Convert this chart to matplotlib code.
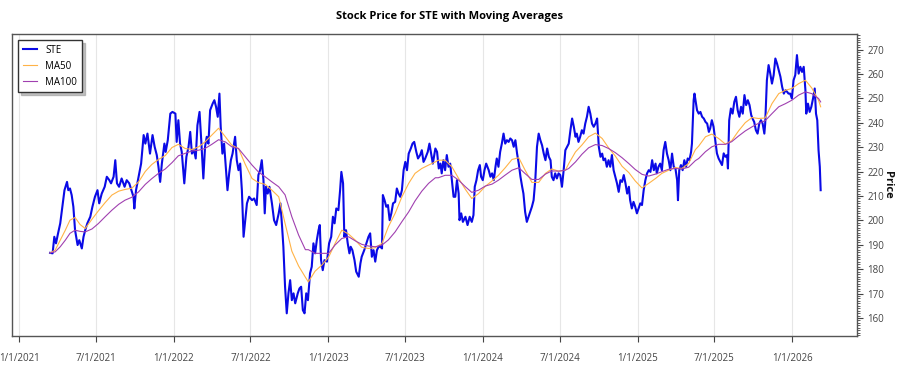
import matplotlib
matplotlib.use('Agg')
import matplotlib.pyplot as plt
import matplotlib.dates as mdates
from matplotlib.ticker import MultipleLocator, FuncFormatter
import pandas as pd

# STE closing prices
ste_dates = [
    '2021-03-15', '2021-03-21', '2021-03-25', '2021-03-29', '2021-04-02', '2021-04-08', '2021-04-12',
    '2021-04-18', '2021-04-24', '2021-04-27', '2021-05-01', '2021-05-05', '2021-05-09', '2021-05-13',
    '2021-05-19', '2021-05-23', '2021-05-29', '2021-06-02', '2021-06-06', '2021-06-11', '2021-06-18',
    '2021-06-23', '2021-06-29', '2021-07-05', '2021-07-09', '2021-07-15', '2021-07-22', '2021-07-27',
    '2021-08-02', '2021-08-06', '2021-08-12', '2021-08-16', '2021-08-20', '2021-08-25', '2021-08-31',
    '2021-09-07', '2021-09-12', '2021-09-18', '2021-09-23', '2021-09-28', '2021-09-30', '2021-10-04',
    '2021-10-10', '2021-10-16', '2021-10-22', '2021-10-26', '2021-10-31', '2021-11-06', '2021-11-12',
    '2021-11-17', '2021-11-22', '2021-11-26', '2021-11-30', '2021-12-04', '2021-12-10', '2021-12-13',
    '2021-12-18', '2021-12-24', '2021-12-29',
    '2022-01-05', '2022-01-08', '2022-01-12', '2022-01-16', '2022-01-20', '2022-01-26', '2022-01-31',
    '2022-02-05', '2022-02-09', '2022-02-13', '2022-02-18', '2022-02-22', '2022-02-26', '2022-03-03',
    '2022-03-07', '2022-03-12', '2022-03-16', '2022-03-20', '2022-03-24', '2022-03-28', '2022-04-03',
    '2022-04-07', '2022-04-11', '2022-04-15', '2022-04-19', '2022-04-22', '2022-04-26', '2022-04-30',
    '2022-05-04', '2022-05-08', '2022-05-12', '2022-05-16', '2022-05-20', '2022-05-26', '2022-05-30',
    '2022-06-03', '2022-06-07', '2022-06-11', '2022-06-15', '2022-06-19', '2022-06-23', '2022-06-28',
    '2022-07-05', '2022-07-10', '2022-07-16', '2022-07-20', '2022-07-24', '2022-07-28', '2022-08-01',
    '2022-08-04', '2022-08-07', '2022-08-11', '2022-08-15', '2022-08-21', '2022-08-26', '2022-08-31',
    '2022-09-06', '2022-09-10', '2022-09-14', '2022-09-17', '2022-09-21', '2022-09-25', '2022-09-29',
    '2022-10-03', '2022-10-07', '2022-10-11', '2022-10-15', '2022-10-21', '2022-10-25', '2022-10-29',
    '2022-11-02', '2022-11-06', '2022-11-10', '2022-11-14',
    '2022-11-19', '2022-11-23', '2022-11-27', '2022-12-01', '2022-12-05', '2022-12-09', '2022-12-12',
    '2022-12-15', '2022-12-19', '2022-12-23', '2022-12-29', '2023-01-03', '2023-01-08', '2023-01-12',
    '2023-01-16', '2023-01-20', '2023-01-25', '2023-01-29', '2023-02-01', '2023-02-05', '2023-02-08',
    '2023-02-12', '2023-02-16', '2023-02-20', '2023-02-23', '2023-02-27', '2023-03-04', '2023-03-08',
    '2023-03-14', '2023-03-18', '2023-03-21', '2023-03-27', '2023-04-01', '2023-04-06', '2023-04-10',
    '2023-04-14', '2023-04-18', '2023-04-22', '2023-04-26', '2023-04-30', '2023-05-04', '2023-05-08',
    '2023-05-10', '2023-05-14', '2023-05-18', '2023-05-22', '2023-05-26', '2023-05-30', '2023-06-03',
    '2023-06-08', '2023-06-12', '2023-06-16', '2023-06-20', '2023-06-24', '2023-06-28', '2023-07-02',
    '2023-07-06', '2023-07-10', '2023-07-15', '2023-07-19', '2023-07-23', '2023-07-28', '2023-08-01',
    '2023-08-06', '2023-08-10', '2023-08-14', '2023-08-18', '2023-08-24', '2023-08-28', '2023-09-01',
    '2023-09-05', '2023-09-11', '2023-09-15', '2023-09-19',
    '2023-09-23', '2023-09-26', '2023-09-30', '2023-10-04', '2023-10-08', '2023-10-12', '2023-10-16',
    '2023-10-20', '2023-10-24', '2023-10-28', '2023-11-01', '2023-11-05', '2023-11-07', '2023-11-11',
    '2023-11-15', '2023-11-21', '2023-11-26', '2023-12-01', '2023-12-06', '2023-12-10', '2023-12-13',
    '2023-12-17', '2023-12-21', '2023-12-25', '2023-12-28', '2024-01-01', '2024-01-05', '2024-01-09',
    '2024-01-15', '2024-01-19', '2024-01-23', '2024-01-27', '2024-01-31', '2024-02-03', '2024-02-07',
    '2024-02-11', '2024-02-15', '2024-02-19', '2024-02-23', '2024-02-27', '2024-03-02', '2024-03-06',
    '2024-03-10', '2024-03-14', '2024-03-18', '2024-03-22', '2024-03-26', '2024-03-30', '2024-04-03',
    '2024-04-06', '2024-04-10', '2024-04-14', '2024-04-18', '2024-04-22', '2024-04-26', '2024-04-30',
    '2024-05-04', '2024-05-08', '2024-05-12', '2024-05-16', '2024-05-20', '2024-05-24', '2024-05-28',
    '2024-06-01', '2024-06-05', '2024-06-09', '2024-06-12', '2024-06-16', '2024-06-20', '2024-06-24',
    '2024-06-28', '2024-07-02', '2024-07-06', '2024-07-10', '2024-07-14', '2024-07-18', '2024-07-22',
    '2024-07-26', '2024-07-30', '2024-08-03', '2024-08-07', '2024-08-10', '2024-08-14', '2024-08-18',
    '2024-08-22', '2024-08-26', '2024-08-30', '2024-09-03', '2024-09-07', '2024-09-11', '2024-09-15',
    '2024-09-19', '2024-09-23', '2024-09-27', '2024-10-01', '2024-10-05', '2024-10-09', '2024-10-12',
    '2024-10-16', '2024-10-20', '2024-10-24', '2024-10-28', '2024-11-01', '2024-11-05', '2024-11-09',
    '2024-11-13', '2024-11-17', '2024-11-21', '2024-11-25', '2024-11-29', '2024-12-03', '2024-12-07',
    '2024-12-11', '2024-12-14', '2024-12-18', '2024-12-22', '2024-12-26', '2024-12-30', '2025-01-03',
    '2025-01-07', '2025-01-11', '2025-01-15', '2025-01-19', '2025-01-23', '2025-01-27', '2025-01-31',
    '2025-02-04', '2025-02-08', '2025-02-12', '2025-02-15', '2025-02-19', '2025-02-23', '2025-02-27',
    '2025-03-03', '2025-03-07', '2025-03-11', '2025-03-15', '2025-03-19', '2025-03-23', '2025-03-27',
    '2025-03-31', '2025-04-04', '2025-04-06', '2025-04-09', '2025-04-13', '2025-04-17', '2025-04-21',
    '2025-04-25', '2025-04-29', '2025-05-03', '2025-05-07', '2025-05-09', '2025-05-13', '2025-05-15',
    '2025-05-21', '2025-05-25', '2025-05-29', '2025-06-02', '2025-06-06', '2025-06-10', '2025-06-14',
    '2025-06-18', '2025-06-21', '2025-06-25', '2025-06-29', '2025-07-03', '2025-07-07', '2025-07-11',
    '2025-07-15', '2025-07-19', '2025-07-23', '2025-07-27', '2025-07-31', '2025-08-02', '2025-08-05',
    '2025-08-09', '2025-08-13', '2025-08-17', '2025-08-21', '2025-08-25', '2025-08-29', '2025-09-02',
    '2025-09-06', '2025-09-10', '2025-09-14', '2025-09-18', '2025-09-22', '2025-09-26', '2025-09-29',
    '2025-10-03', '2025-10-07', '2025-10-11', '2025-10-15', '2025-10-19', '2025-10-23', '2025-10-27',
    '2025-10-29', '2025-11-02', '2025-11-06', '2025-11-10', '2025-11-14', '2025-11-18', '2025-11-22',
    '2025-11-26', '2025-11-30', '2025-12-04', '2025-12-08', '2025-12-12', '2025-12-16', '2025-12-20',
    '2025-12-23', '2025-12-27', '2025-12-31', '2026-01-04', '2026-01-08', '2026-01-12', '2026-01-16',
    '2026-01-20', '2026-01-24', '2026-01-28', '2026-02-01', '2026-02-03', '2026-02-07', '2026-02-11',
    '2026-02-15', '2026-02-19', '2026-02-23', '2026-02-26', '2026-03-01', '2026-03-04', '2026-03-07',
    '2026-03-09',
]
ste_close = [
    186.7, 186.5, 193.3, 190.6, 194.0, 198.8, 204.2,
    212.4, 215.8, 212.4, 213.1, 210.4, 205.6, 196.0,
    189.9, 191.9, 188.5, 193.3, 196.0, 198.8, 201.5,
    205.6, 209.7, 212.4, 207.0, 211.0, 213.8, 217.9,
    216.5, 215.2, 217.9, 224.7, 215.2, 213.8, 217.2,
    213.8, 216.5, 215.2, 212.4, 209.7, 204.9, 212.4,
    217.9, 223.3, 235.0, 231.5, 235.6, 227.4, 235.0,
    230.2, 226.8, 222.0, 215.8, 223.3, 231.5, 228.1,
    232.9, 243.8, 244.5,
    243.8, 232.2, 241.1, 231.5, 228.1, 215.2, 226.1,
    230.2, 236.3, 227.4, 228.8, 225.4, 239.0, 244.5,
    232.9, 217.2, 230.2, 234.3, 231.5, 245.2, 247.9,
    249.3, 246.6, 242.5, 252.0, 238.4, 227.4, 231.5,
    222.0, 212.4, 219.3, 224.7, 227.4, 234.3, 224.7,
    220.6, 223.3, 212.4, 193.3, 200.1, 207.0, 209.7,
    208.3, 209.0, 206.3, 218.6, 220.6, 224.7, 216.5,
    202.9, 213.8, 211.0, 213.8, 207.0, 200.1, 198.1,
    202.9, 207.0, 197.4, 189.2, 172.8, 161.9, 170.1,
    175.5, 167.3, 170.1, 166.0, 170.1, 172.1, 172.8,
    163.2, 161.9, 170.1, 167.3,
    178.3, 181.0, 190.6, 186.5, 191.9, 196.0, 198.1,
    183.7, 179.6, 183.7, 183.1, 190.6, 193.3, 201.5,
    198.8, 204.9, 204.2, 212.4, 219.9, 215.2, 193.3,
    196.0, 190.6, 186.5, 189.2, 187.8, 183.7, 179.0,
    176.9, 182.4, 185.1, 187.8, 190.6, 193.3, 194.7,
    185.1, 187.8, 183.1, 187.8, 189.2, 189.2, 188.5,
    210.4, 208.3, 205.6, 206.3, 200.1, 202.9, 207.0,
    207.6, 213.1, 211.0, 209.7, 212.4, 220.6, 224.0,
    220.6, 227.4, 229.5, 231.5, 232.2, 228.1, 225.4,
    226.8, 228.8, 224.0, 225.4, 228.1, 231.5, 227.4,
    223.3, 229.5, 228.1, 221.3,
    223.3, 219.3, 224.7, 220.6, 226.8, 222.0, 223.3,
    216.5, 209.7, 209.7, 216.5, 211.0, 200.1, 202.9,
    199.4, 201.5, 198.1, 201.5, 199.4, 202.2, 213.8,
    216.5, 220.6, 222.7, 217.9, 216.5, 220.6, 223.3,
    220.6, 217.9, 219.3, 216.5, 222.0, 225.4, 222.0,
    228.1, 231.5, 235.6, 231.5, 232.9, 232.2, 233.6,
    232.9, 230.2, 232.9, 227.4, 223.3, 217.9, 213.8,
    211.0, 203.5, 199.4, 201.5, 203.5, 205.6, 208.3,
    216.5, 230.2, 235.6, 232.9, 230.8, 227.4, 224.7,
    229.5, 226.1, 224.7, 217.9, 216.5, 219.3, 217.2,
    219.3, 218.6, 213.8, 220.6, 228.8, 230.2, 231.5,
    237.0, 241.8, 238.4, 234.3, 235.6, 232.2, 234.3,
    237.0, 235.6, 239.7, 242.5, 246.6, 243.8, 239.7,
    238.4, 239.7, 241.8, 230.2, 226.1, 227.4, 224.7,
    225.4, 222.0, 224.7, 222.0, 226.8, 220.6, 217.9,
    215.2, 211.7, 216.5, 215.8, 218.6, 215.2, 211.0,
    213.8, 208.3, 204.9, 207.6, 205.6, 202.9, 204.9,
    207.0, 206.3, 212.4, 216.5, 219.3, 220.6, 219.9,
    224.7, 220.6, 223.3, 219.3, 222.0, 223.3, 220.6,
    228.8, 232.2, 227.4, 224.7, 220.6, 227.4, 222.0,
    221.3, 216.5, 208.3, 220.6, 222.7, 220.6, 224.7,
    222.0, 225.4, 224.7, 228.1, 231.5, 249.3, 252.0,
    245.2, 243.8, 244.5, 242.5, 241.8, 240.4, 239.7,
    236.3, 237.7, 241.1, 238.4, 232.9, 227.5, 225.4,
    224.0, 222.7, 227.5, 226.1, 226.8, 221.3, 241.1,
    245.9, 243.8, 248.6, 250.7, 245.2, 242.5, 246.6,
    243.8, 251.4, 247.3, 249.3, 247.3, 243.2, 241.8,
    240.4, 237.0, 235.6, 239.7, 241.1, 239.7, 235.6,
    239.7, 257.5, 263.7, 260.2, 256.1, 259.6, 266.4,
    264.3, 261.6, 258.9, 254.8, 252.0, 253.4, 252.7,
    252.0, 252.0, 250.0, 257.5, 259.6, 267.8, 260.2,
    263.0, 260.9, 263.0, 253.4, 243.8, 247.9, 244.5,
    246.6, 250.0, 254.1, 243.8, 241.1, 228.8, 222.0,
    212.4,
]

# moving averages as drawn in the reference
ma_dates = [
    '2021-03-15', '2021-03-27', '2021-04-08', '2021-04-20', '2021-05-01', '2021-05-13', '2021-05-25',
    '2021-06-06', '2021-06-22', '2021-07-07', '2021-07-23', '2021-08-08', '2021-08-24', '2021-09-08',
    '2021-09-24', '2021-10-10', '2021-10-26', '2021-11-10', '2021-11-26', '2021-12-12', '2021-12-28',
    '2022-01-12', '2022-01-28', '2022-02-13', '2022-03-01', '2022-03-16', '2022-04-01', '2022-04-17',
    '2022-05-03', '2022-05-18', '2022-06-03', '2022-06-19', '2022-07-05', '2022-07-20', '2022-08-05',
    '2022-08-21', '2022-09-06', '2022-09-21', '2022-10-07', '2022-10-23', '2022-11-08',
    '2022-11-15', '2022-12-01', '2022-12-17', '2023-01-02', '2023-01-17', '2023-02-02', '2023-02-18',
    '2023-03-06', '2023-03-21', '2023-04-06', '2023-04-22', '2023-05-08', '2023-05-23', '2023-06-08',
    '2023-06-24', '2023-07-10', '2023-07-25', '2023-08-10', '2023-08-26', '2023-09-11',
    '2023-09-18', '2023-10-04', '2023-10-20', '2023-11-05', '2023-11-21', '2023-12-06', '2023-12-22',
    '2024-01-07', '2024-01-23', '2024-02-07', '2024-02-23', '2024-03-10', '2024-03-26', '2024-04-10',
    '2024-04-26', '2024-05-12', '2024-05-28', '2024-06-12', '2024-06-28', '2024-07-14',
    '2024-07-22', '2024-08-07', '2024-08-22', '2024-09-07', '2024-09-23', '2024-10-09', '2024-10-24',
    '2024-11-09', '2024-11-25', '2024-12-11', '2024-12-26', '2025-01-11', '2025-01-27', '2025-02-12',
    '2025-02-27', '2025-03-15', '2025-03-31', '2025-04-15', '2025-05-01', '2025-05-17',
    '2025-05-25', '2025-06-10', '2025-06-25', '2025-07-11', '2025-07-27', '2025-08-11', '2025-08-27',
    '2025-09-12', '2025-09-28', '2025-10-13', '2025-10-29', '2025-11-14', '2025-11-30', '2025-12-16',
    '2025-12-31', '2026-01-16', '2026-02-01', '2026-02-16', '2026-03-04', '2026-03-09',
]
ma50 = [
    186.7, 187.8, 191.9, 196.0, 200.1, 201.2, 198.3, 196.7, 200.5, 203.9, 207.3,
    210.4, 212.0, 212.7, 213.2, 215.8, 220.1, 222.9, 225.0, 226.6, 229.9,
    231.2, 229.5, 229.1, 230.2, 232.2, 235.0, 237.8, 234.3, 230.9, 229.5,
    223.0, 217.2, 215.5, 214.8, 212.4, 209.7, 198.8, 187.4, 181.3, 176.7,
    174.8, 179.2, 181.7, 185.0, 190.5, 196.0, 194.4, 191.9, 189.0, 188.5,
    188.8, 190.6, 197.4, 202.9, 209.7, 215.2, 219.3, 221.3, 222.7, 224.0,
    224.7, 224.7, 222.0, 217.2, 212.7, 209.0, 211.0, 214.0, 216.2, 218.5,
    221.6, 225.0, 225.7, 220.6, 215.6, 215.6, 219.3, 221.1, 220.2, 220.6,
    223.3, 228.1, 230.9, 234.3, 235.8, 233.6, 229.8, 226.4, 222.2, 219.6,
    216.2, 213.3, 215.2, 217.2, 219.3, 220.6, 221.7, 221.3, 223.3, 229.0,
    230.5, 234.3, 235.4, 233.6, 231.3, 232.7, 236.7, 240.1, 242.2, 241.8,
    242.0, 247.9, 252.0, 253.4, 254.1, 256.1, 257.5, 254.3, 249.3, 246.6,
]
ma100 = [
    186.7, 187.1, 189.2, 191.9, 194.7, 196.0, 195.5, 195.3, 196.5, 198.7, 201.5,
    204.2, 206.6, 208.3, 209.5, 211.7, 214.8, 217.1, 219.3, 221.1, 223.7,
    226.5, 227.5, 228.5, 228.8, 229.5, 231.2, 233.1, 232.2, 230.2, 229.5,
    226.1, 222.7, 219.9, 217.9, 215.8, 213.8, 210.5, 201.5, 194.0, 188.0,
    188.0, 186.5, 186.5, 186.5, 189.9, 192.6, 193.3, 191.6, 190.2, 189.5,
    189.2, 189.9, 192.0, 195.3, 199.5, 203.5, 208.0, 212.0, 215.2, 217.5,
    217.5, 218.5, 218.5, 216.5, 213.8, 211.5, 212.4, 214.1, 214.9, 216.5,
    218.6, 220.6, 221.6, 219.2, 216.8, 216.8, 219.0, 220.3, 220.2, 220.6,
    221.3, 224.0, 227.1, 229.8, 231.1, 230.7, 229.5, 227.8, 225.7, 223.3,
    220.9, 218.9, 218.2, 219.0, 220.0, 221.0, 221.3, 221.1, 221.8, 224.5,
    225.4, 228.2, 230.2, 231.2, 231.2, 232.3, 234.6, 236.7, 238.4, 239.8,
    240.9, 243.8, 246.6, 247.9, 249.3, 251.4, 252.7, 252.0, 250.0, 248.6,
]

plt.rcParams['font.family'] = ['Open Sans', 'DejaVu Sans']


def date_label(x, pos):
    d = mdates.num2date(x)
    return f'{d.month}/{d.day}/{d.year}'


def main():
    price_x = pd.to_datetime(ste_dates)
    ma_x = pd.to_datetime(ma_dates)

    fig = plt.figure(figsize=(9, 3.75), dpi=100)
    ax = fig.add_axes([0.0133, 0.104, 0.939, 0.805])

    ax.plot(price_x, ste_close, color='#0a0ae6', lw=1.5, label='STE', zorder=3)
    ax.plot(ma_x, ma50, color='#ffb347', lw=0.8, label='MA50', zorder=4)
    ax.plot(ma_x, ma100, color='#a040b0', lw=0.8, label='MA100', zorder=4)

    # Axes limits
    ax.set_xlim(pd.Timestamp('2020-12-15'), pd.Timestamp('2026-06-03'))
    ax.set_ylim(152.6, 276.4)

    # x axis: half-year ticks with light grid
    ax.xaxis.set_major_locator(mdates.MonthLocator(bymonth=[1, 7]))
    ax.xaxis.set_major_formatter(FuncFormatter(date_label))
    ax.grid(axis='x', color='#e6e6e6', lw=0.8)
    ax.set_axisbelow(True)

    # y axis on the right
    ax.yaxis.tick_right()
    ax.yaxis.set_label_position('right')
    ax.yaxis.set_major_locator(MultipleLocator(10))
    ax.yaxis.set_minor_locator(MultipleLocator(1))
    ax.set_ylabel('Price', rotation=270, fontweight='bold', fontsize=8,
                  labelpad=6, color='#111111')

    ax.tick_params(axis='both', which='major', labelsize=7, colors='#444444',
                   length=4, width=0.8)
    ax.tick_params(axis='y', which='minor', length=2, width=0.6, colors='#444444')
    ax.tick_params(axis='x', pad=8)

    for side in ax.spines.values():
        side.set_color('#555555')
        side.set_linewidth(1.0)

    fig.suptitle('Stock Price for STE with Moving Averages', fontsize=8,
                 fontweight='bold', x=0.5, y=0.97)

    leg = ax.legend(loc='upper left', fontsize=7, fancybox=False,
                    shadow={'color': '#999999', 'alpha': 0.6, 'ox': 2, 'oy': -2},
                    handlelength=1.5, borderaxespad=0.6, borderpad=0.5,
                    labelspacing=0.5, framealpha=1)
    leg.get_frame().set_edgecolor('#333333')
    leg.get_frame().set_linewidth(1.0)

    fig.savefig('out.png', dpi=100)


if __name__ == '__main__':
    main()
